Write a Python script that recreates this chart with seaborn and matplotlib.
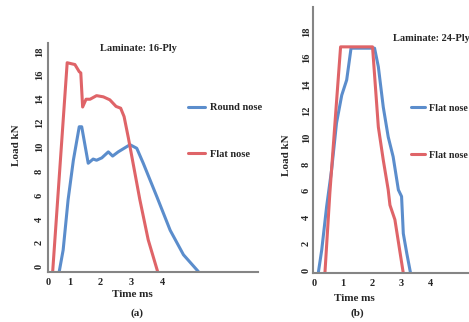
import matplotlib
matplotlib.use("Agg")
import matplotlib.pyplot as plt
import seaborn as sns

# ---------------------------------------------------------
# DATA
# ---------------------------------------------------------
# (a) Laminate 16-Ply
t_round_16 = [0.67, 0.80, 0.96, 1.13, 1.32, 1.40, 1.61, 1.77, 1.88, 2.05, 2.26, 2.40,
              2.58, 2.96, 3.18, 3.39, 3.83, 4.26, 4.69, 5.17]
load_round_16 = [-0.45, 1.4, 5.6, 8.9, 11.7, 11.7, 8.65, 9.0, 8.9, 9.1, 9.6, 9.25,
                 9.6, 10.2, 9.9, 8.65, 5.85, 3.05, 1.0, -0.4]
t_flat_16 = [0.46, 0.93, 1.18, 1.32, 1.37, 1.43, 1.54, 1.67, 1.88, 2.10, 2.31, 2.51,
             2.66, 2.77, 2.91, 3.28, 3.55, 3.86]
load_flat_16 = [-0.45, 17.05, 16.9, 16.3, 16.2, 13.35, 14.0, 14.0, 14.3, 14.2, 13.95, 13.4,
                13.25, 12.55, 10.75, 5.6, 2.25, -0.45]

# (b) Laminate 24-Ply
t_blue_24 = [0.15, 0.27, 0.44, 0.61, 0.78, 0.96, 1.13, 1.28, 2.09, 2.22, 2.39, 2.56,
             2.73, 2.91, 3.02, 3.08, 3.20, 3.33]
load_blue_24 = [-0.25, 1.5, 4.8, 7.55, 11.1, 13.2, 14.35, 16.75, 16.75, 15.35, 12.3, 10.05,
                8.55, 6.05, 5.55, 2.75, 1.25, -0.25]
t_red_24 = [0.38, 0.55, 0.76, 0.92, 2.02, 2.22, 2.39, 2.56, 2.62, 2.79, 3.08]
load_red_24 = [-0.25, 5.8, 12.1, 16.85, 16.85, 10.8, 8.3, 6.05, 4.9, 3.8, -0.25]

y_ticks = [0, 2, 4, 6, 8, 10, 12, 14, 16, 18]
x_ticks = [1, 2, 3, 4]

BLUE = "#5b8dcc"
RED = "#df6468"
GREY = "#858585"

# ---------------------------------------------------------
# STYLE
# ---------------------------------------------------------
sns.set_style("white")
plt.rcParams["font.family"] = ["Liberation Serif", "DejaVu Serif"]
plt.rcParams["font.weight"] = "bold"

fig = plt.figure(figsize=(4.69, 3.22), dpi=100)
ax_a = fig.add_axes([48 / 469, 1 - 272 / 322, 210 / 469, 229 / 322])
ax_b = fig.add_axes([313 / 469, 1 - 273 / 322, 160 / 469, 266 / 322])


def style_axis(ax, xlim, ylim, ypad):
    ax.set_xlim(*xlim)
    ax.set_ylim(*ylim)
    for side in ["top", "right"]:
        ax.spines[side].set_visible(False)
    for side in ["left", "bottom"]:
        ax.spines[side].set_color(GREY)
        ax.spines[side].set_linewidth(1.5)
    ax.set_yticks(y_ticks)
    ax.set_yticklabels([str(v) for v in y_ticks], rotation=90, va="center",
                       fontsize=7.5, fontweight="bold")
    ax.tick_params(axis="both", length=0)
    ax.tick_params(axis="y", pad=ypad)
    ax.tick_params(axis="x", pad=4)


# ---------------------------------------------------------
# (a) 16-Ply
# ---------------------------------------------------------
sns.lineplot(x=t_round_16, y=load_round_16, ax=ax_a, color=BLUE, lw=2.2,
             sort=False, label="Round nose")
sns.lineplot(x=t_flat_16, y=load_flat_16, ax=ax_a, color=RED, lw=2.2,
             sort=False, label="Flat nose")
style_axis(ax_a, (0.31, 7.1), (-0.44, 18.7), 3)
ax_a.set_xticks([0.31] + x_ticks)
ax_a.set_xticklabels(["0"] + [str(v) for v in x_ticks], fontsize=7.5, fontweight="bold")
ax_a.text(0.43, 0.978, "Laminate: 16-Ply", transform=ax_a.transAxes, ha="center",
          va="center", fontsize=7.5, fontweight="bold")
ax_a.set_ylabel("Load kN", fontsize=8, fontweight="bold", va="center")
ax_a.yaxis.set_label_coords(-0.148, 0.555)
ax_a.set_xlabel("Time ms", fontsize=8, fontweight="bold", va="center")
ax_a.xaxis.set_label_coords(0.40, -0.10)
ax_a.text(0.424, -0.179, "(a)", transform=ax_a.transAxes, ha="center", va="center",
          fontsize=8, fontweight="bold")
ax_a.legend(loc="upper left", bbox_to_anchor=(188 / 469, 1 - 103 / 322),
            bbox_transform=fig.transFigure, frameon=False, fontsize=7.5,
            handlelength=1.6, handletextpad=0.5, labelspacing=3.6,
            borderpad=0, borderaxespad=0)

# ---------------------------------------------------------
# (b) 24-Ply
# ---------------------------------------------------------
sns.lineplot(x=t_blue_24, y=load_blue_24, ax=ax_b, color=BLUE, lw=2.2,
             sort=False, label="Flat nose")
sns.lineplot(x=t_red_24, y=load_red_24, ax=ax_b, color=RED, lw=2.2,
             sort=False, label="Flat nose")
style_axis(ax_b, (-0.03, 5.48), (-0.23, 19.86), 1.5)
ax_b.set_xticks([0] + x_ticks)
ax_b.set_xticklabels(["0"] + [str(v) for v in x_ticks], fontsize=7.5, fontweight="bold")
ax_b.text(0.50, 0.883, "Laminate: 24-Ply", transform=ax_b.transAxes, ha="left",
          va="center", fontsize=7.5, fontweight="bold")
ax_b.set_ylabel("Load kN", fontsize=8, fontweight="bold", va="center")
ax_b.yaxis.set_label_coords(-0.165, 0.444)
ax_b.set_xlabel("Time ms", fontsize=8, fontweight="bold", va="center")
ax_b.xaxis.set_label_coords(0.26, -0.095)
ax_b.text(0.28, -0.150, "(b)", transform=ax_b.transAxes, ha="center", va="center",
          fontsize=8, fontweight="bold")
ax_b.legend(loc="upper left", bbox_to_anchor=(411 / 469, 1 - 104 / 322),
            bbox_transform=fig.transFigure, frameon=False, fontsize=7.2,
            handlelength=1.4, handletextpad=0.35, labelspacing=3.8,
            borderpad=0, borderaxespad=0)

fig.savefig("out.png", dpi=100)
